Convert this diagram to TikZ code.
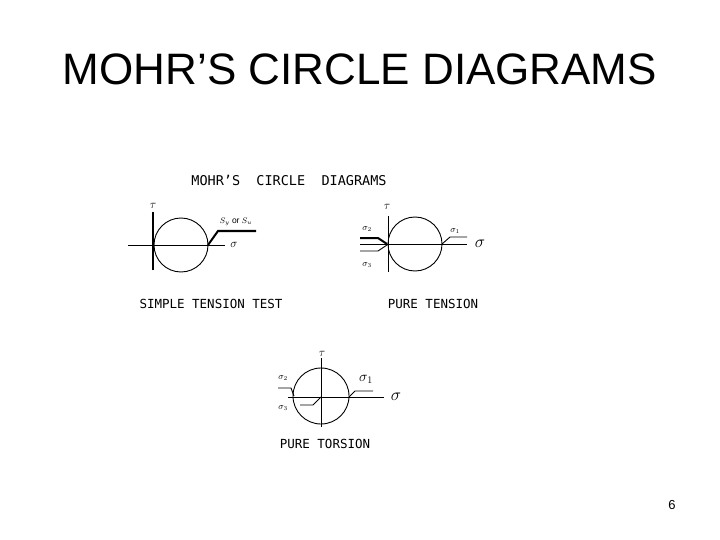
\documentclass[tikz,border=0pt]{standalone}
\usepackage{fontspec}
\usepackage{graphicx}
\setmainfont{Liberation Sans}
\newfontfamily\pixfont{DejaVu Sans Mono}
\tikzset{
  thinln/.style={line width=0.9pt},
  thickln/.style={line width=2pt},
  caplbl/.style={inner sep=0pt, font=\pixfont\fontsize{12.5}{12.5}\selectfont},
  smalllbl/.style={inner sep=0pt, font=\fontsize{12}{12}\selectfont},
  sublbl/.style={inner sep=0pt, font=\fontsize{9}{9}\selectfont},
  biglbl/.style={inner sep=0pt, font=\fontsize{16}{16}\selectfont}
}
\begin{document}
\begin{tikzpicture}[x=1pt,y=-1pt]
\useasboundingbox (0,0) rectangle (720,540);
\fill[white] (0,0) rectangle (720,540);
% main title
\node[inner sep=0pt, anchor=base, font=\fontsize{44}{44}\selectfont] (title) at (360,85) {MOHR’S CIRCLE DIAGRAMS};
\node[caplbl, anchor=base, font=\pixfont\fontsize{13.5}{13.5}\selectfont] (subtitle) at (289,186) {MOHR’S\ \ CIRCLE\ \ DIAGRAMS};
% ---------- diagram 1: simple tension test
\draw[thinln] (128,245) -- (225,245);
\draw[thickln] (153,212) -- (153,270);
\draw[thinln] (181,245) circle[radius=27];
\draw[thickln] (208,245) -- (218,231) -- (256,231);
\node[smalllbl] (t1) at (153,206) {$\tau$};
\node[smalllbl] (s1) at (234,245) {$\sigma$};
\node[inner sep=0pt, font=\fontsize{8.5}{8.5}\selectfont] (sy) at (236,222) {$S_y$ or $S_u$};
\node[caplbl, anchor=base] (lab1) at (211,308) {SIMPLE TENSION TEST};
% ---------- diagram 2: pure tension
\draw[thinln] (360,244) -- (467,244);
\draw[thinln] (388,216) -- (388,272);
\draw[thinln] (415,244) circle[radius=27];
\draw[thickln] (360,238) -- (378,238) -- (387,244);
\draw[thinln] (360,251) -- (378,251) -- (387,245);
\draw[thinln] (442,244) -- (450,237) -- (467,237);
\node[smalllbl] (t2) at (387,207) {$\tau$};
\node[sublbl] (s22) at (367,229) {$\sigma_2$};
\node[sublbl] (s23) at (367,265) {$\sigma_3$};
\node[sublbl] (s21) at (455,231) {$\sigma_1$};
\node[biglbl] (s2) at (480,244) {$\sigma$};
\node[caplbl, anchor=base] (lab2) at (433,308) {PURE TENSION};
% ---------- diagram 3: pure torsion
\draw[thinln] (288,397) -- (384,397);
\draw[thinln] (321,358) -- (321,427);
\draw[thinln] (321,396) circle[radius=28];
\draw[thinln] (278,388) -- (291,388) -- (294,396);
\draw[thinln] (300,405) -- (313,405) -- (321,397);
\draw[thinln] (349,397) -- (355,391) -- (373,391);
\node[smalllbl] (t3) at (322,354) {$\tau$};
\node[sublbl] (s32) at (283,378) {$\sigma_2$};
\node[sublbl] (s33) at (283,408) {$\sigma_3$};
\node[inner sep=0pt, font=\fontsize{14}{14}\selectfont] (s31) at (366,379) {$\sigma_1$};
\node[biglbl] (s3) at (396,397) {$\sigma$};
\node[caplbl, anchor=base] (lab3) at (325,448) {PURE TORSION};
% page number
\node[inner sep=0pt, font=\fontsize{13}{13}\selectfont] (pg) at (672,505) {6};
\end{tikzpicture}
\end{document}
